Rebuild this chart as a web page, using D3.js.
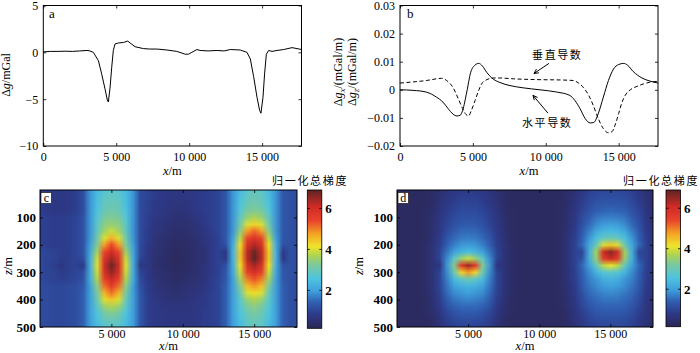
<!DOCTYPE html>
<html>
<head>
<meta charset="utf-8">
<script src="https://cdn.jsdelivr.net/npm/d3@7"></script>
<style>
body { margin: 0; background: #fff; }
svg { display: block; }
svg text { font-family: "Liberation Serif", "Times New Roman", "DejaVu Serif", serif; fill: #000; }
svg text.cjk { font-family: "Noto Sans CJK SC", sans-serif; }
</style>
</head>
<body>
<svg id="fig" width="700" height="353"></svg>
<script>
// ---- panel a: gravity anomaly profile (x in m, mGal)
const gravX = [0, 500, 1000, 1500, 2000, 2500, 3000, 3200, 3430, 3780, 4000, 4230, 4390, 4460, 4580, 4690, 4800, 4920, 5150, 5490, 5790, 5950, 6290, 6860, 7300, 7780, 8470, 9150, 9730, 9950, 10180, 10530, 10750, 11300, 11900, 12400, 12820, 13500, 13960, 14190, 14420, 14650, 14830, 14920, 15060, 15170, 15290, 15450, 15680, 16020, 16480, 17050, 17390, 17700];
const gravY = [0.05, 0.1, 0.1, 0.12, 0.1, 0.15, 0.2, 0.15, 0, -0.9, -2.3, -3.9, -5.1, -5.3, -3.7, -1.6, 0.2, 0.9, 1.0, 1.05, 1.2, 1.0, 0.6, 0.4, 0.35, 0.35, 0.25, 0.1, -0.2, -0.2, 0, 0.3, 0.2, 0.15, 0.2, 0.15, 0.3, 0.25, 0, -0.7, -2.6, -4.8, -6.2, -6.5, -4.8, -2.3, -0.2, 0.2, 0.1, 0.2, 0.3, 0.5, 0.4, 0.3];

// ---- panel b: horizontal (solid) and vertical (dashed) derivatives
const horX = [0, 900, 1800, 2500, 2950, 3300, 3650, 3900, 4120, 4300, 4580, 4850, 5150, 5400, 5650, 5950, 6300, 6850, 7550, 8450, 9600, 10750, 11650, 12000, 12350, 12700, 13050, 13300, 13600, 13950, 14300, 14650, 15000, 15350, 15600, 16000, 16600, 17150, 17700];
const horY = [0, -0.0002, -0.0008, -0.0026, -0.0044, -0.0067, -0.0087, -0.0093, -0.0091, -0.0073, -0.0008, 0.0062, 0.0088, 0.0094, 0.0085, 0.0062, 0.0042, 0.0026, 0.0015, 0.0007, 0, -0.0008, -0.002, -0.0038, -0.0067, -0.0102, -0.0118, -0.0116, -0.0085, -0.0026, 0.0033, 0.0074, 0.009, 0.0094, 0.0088, 0.0065, 0.0042, 0.0031, 0.0024];
const verX = [0, 900, 1800, 2500, 2850, 3200, 3650, 4000, 4300, 4530, 4700, 4900, 5150, 5400, 5600, 5950, 6400, 6850, 7800, 9600, 11000, 11900, 12250, 12600, 12950, 13300, 13600, 13950, 14300, 14550, 14750, 15000, 15200, 15450, 15800, 16250, 16700, 17150, 17700];
const verY = [0.0024, 0.0028, 0.0033, 0.0039, 0.0041, 0.0033, 0.0007, -0.0032, -0.0067, -0.0088, -0.0093, -0.0073, -0.0038, -0.0002, 0.0021, 0.0036, 0.0042, 0.0042, 0.0039, 0.0036, 0.0035, 0.0033, 0.0024, 0.0007, -0.002, -0.0061, -0.0102, -0.0138, -0.0153, -0.0149, -0.0126, -0.0085, -0.0049, -0.002, 0, 0.0012, 0.0021, 0.0027, 0.003];

// ---- panels c, d: normalized full gradient grids (columns = gridX, rows = gridZ)
const gridX = [0, 500, 1000, 1500, 2000, 2500, 3000, 3500, 4000, 4500, 5000, 5500, 6000, 6500, 7000, 7500, 8000, 8500, 9000, 9500, 10000, 10500, 11000, 11500, 12000, 12500, 13000, 13500, 14000, 14500, 15000, 15500, 16000, 16500, 17000, 17500, 18000];
const gridZ = [0, 25, 50, 75, 100, 125, 150, 175, 200, 225, 250, 275, 300, 325, 350, 375, 400, 425, 450, 475, 500];

const gradC = [
  [0.85,0.8,0.75,0.75,0.8,0.9, 1.1,1.9, 2.4,2.7,2.8,2.7,2.4, 1.9,1.1, 1.0,0.85,0.8,0.7,0.7,0.7,0.75,0.8,0.85,0.9,1.0, 1.3,1.9, 2.4,2.8,2.9,2.8,2.4, 1.9,1.3,1.2,1.1],
  [0.85,0.8,0.75,0.75,0.8,0.9, 1.1,1.9, 2.5,2.8,2.9,2.8,2.5, 1.9,1.1, 1.0,0.85,0.8,0.7,0.7,0.7,0.75,0.8,0.85,0.9,1.0, 1.3,1.9, 2.5,2.9,3.0,2.9,2.5, 1.9,1.3,1.2,1.1],
  [0.85,0.8,0.75,0.75,0.8,0.9, 1.1,1.9, 2.5,2.9,3.0,2.9,2.5, 1.9,1.1, 0.95,0.8,0.75,0.7,0.65,0.65,0.7,0.8,0.85,0.9,1.0, 1.3,1.9, 2.6,3.0,3.1,3.0,2.6, 1.9,1.3,1.2,1.1],
  [0.85,0.8,0.75,0.75,0.8,0.9, 1.1,1.9, 2.6,3.0,3.1,3.0,2.6, 1.9,1.1, 0.95,0.8,0.75,0.65,0.6,0.6,0.7,0.75,0.85,0.9,1.0, 1.3,1.9, 2.7,3.2,3.3,3.2,2.7, 1.9,1.3,1.2,1.1],
  [0.95,0.9,0.85,0.85,0.9,1.0, 1.2,1.9, 2.7,3.2,3.3,3.2,2.7, 1.9,1.1, 0.9,0.75,0.7,0.6,0.55,0.55,0.6,0.7,0.8,0.9,1.0, 1.3,1.9, 2.9,3.5,3.7,3.5,2.9, 1.9,1.3,1.2,1.1],
  [0.95,0.9,0.85,0.85,0.9,1.0, 1.2,1.9, 2.8,3.4,3.5,3.4,2.8, 1.9,1.1, 0.9,0.7,0.65,0.55,0.5,0.5,0.55,0.65,0.75,0.9,1.0, 1.3,1.9, 3.1,4.0,4.3,4.0,3.1, 1.9,1.3,1.2,1.1],
  [0.95,0.9,0.85,0.85,0.9,1.0, 1.2,1.9, 2.9,3.6,3.9,3.6,2.9, 1.9,1.1, 0.85,0.65,0.6,0.5,0.45,0.45,0.5,0.6,0.7,0.85,1.0, 1.3,1.9, 3.4,4.8,5.2,4.8,3.4, 1.9,1.3,1.2,1.1],
  [0.95,0.9,0.85,0.85,0.9,1.0, 1.2,1.9, 3.1,4.0,4.6,4.0,3.1, 1.9,1.1, 0.85,0.6,0.55,0.45,0.4,0.4,0.45,0.55,0.65,0.8,0.95, 1.3,2.0, 3.8,5.4,5.8,5.4,3.8, 2.0,1.3,1.2,1.1],
  [0.95,0.9,0.85,0.85,0.9,1.0, 1.2,2.0, 3.3,4.8,5.4,4.8,3.3, 2.0,1.1, 0.8,0.6,0.5,0.4,0.35,0.35,0.4,0.5,0.6,0.8,0.95, 1.2,2.2, 4.2,5.9,6.3,5.9,4.2, 2.2,1.2,1.2,1.1],
  [1.05,1.0,0.95,0.9,0.9,1.0, 1.2,2.1, 3.6,5.4,6.0,5.4,3.6, 2.1,1.1, 0.8,0.55,0.5,0.4,0.3,0.35,0.4,0.5,0.55,0.8,0.95, 0.8,2.3, 4.4,6.2,6.8,6.2,4.4, 2.3,0.8,1.2,1.1],
  [1.05,1.0,0.95,0.85,0.9,1.0, 1.1,2.2, 3.9,5.8,6.4,5.8,3.9, 2.2,1.0, 0.75,0.55,0.45,0.35,0.3,0.3,0.4,0.5,0.55,0.8,0.95, 0.8,2.3, 4.4,6.2,6.9,6.2,4.4, 2.3,0.8,1.2,1.1],
  [1.05,1.0,0.9,0.7,0.9,0.95, 0.8,2.2, 4.0,6.0,6.8,6.0,4.0, 2.2,0.75, 0.75,0.5,0.45,0.35,0.3,0.35,0.4,0.5,0.6,0.8,0.95, 1.2,2.2, 4.2,5.9,6.4,5.9,4.2, 2.2,1.2,1.2,1.1],
  [1.05,1.0,0.95,0.85,0.9,1.0, 1.1,2.2, 3.9,5.9,6.5,5.9,3.9, 2.2,1.0, 0.8,0.55,0.5,0.4,0.35,0.35,0.45,0.5,0.6,0.8,0.95, 1.3,2.1, 3.9,5.5,5.9,5.5,3.9, 2.1,1.3,1.2,1.1],
  [1.05,1.0,0.95,0.9,0.95,1.05, 1.2,2.2, 3.7,5.5,6.1,5.5,3.7, 2.2,1.1, 0.8,0.6,0.5,0.45,0.4,0.4,0.5,0.55,0.65,0.85,1.0, 1.3,2.0, 3.6,5.0,5.3,5.0,3.6, 2.0,1.3,1.2,1.1],
  [1.1,1.1,1.05,1.05,1.1,1.15, 1.3,2.0, 3.4,5.1,5.6,5.1,3.4, 2.0,1.2, 0.85,0.65,0.55,0.5,0.45,0.5,0.55,0.6,0.7,0.85,1.0, 1.4,2.0, 3.3,4.5,4.8,4.5,3.3, 2.0,1.4,1.2,1.1],
  [1.1,1.1,1.05,1.05,1.1,1.15, 1.4,2.0, 3.2,4.6,5.1,4.6,3.2, 2.0,1.3, 0.85,0.7,0.6,0.55,0.5,0.55,0.6,0.65,0.75,0.9,1.0, 1.4,2.0, 3.0,4.0,4.2,4.0,3.0, 2.0,1.4,1.2,1.1],
  [1.1,1.1,1.05,1.05,1.1,1.15, 1.4,2.0, 3.0,4.0,4.4,4.0,3.0, 2.0,1.3, 0.9,0.75,0.65,0.6,0.6,0.6,0.65,0.7,0.8,0.9,1.0, 1.4,2.0, 2.8,3.5,3.7,3.5,2.8, 2.0,1.4,1.2,1.1],
  [1.1,1.1,1.05,1.05,1.1,1.15, 1.4,2.0, 2.8,3.5,3.7,3.5,2.8, 2.0,1.3, 0.9,0.8,0.7,0.7,0.65,0.65,0.7,0.75,0.8,0.9,1.0, 1.4,2.0, 2.7,3.2,3.4,3.2,2.7, 2.0,1.4,1.2,1.1],
  [1.1,1.1,1.05,1.05,1.1,1.15, 1.4,2.0, 2.6,3.1,3.3,3.1,2.6, 2.0,1.3, 0.9,0.8,0.75,0.7,0.7,0.7,0.7,0.75,0.85,0.9,1.0, 1.4,2.0, 2.6,3.0,3.2,3.0,2.6, 2.0,1.4,1.2,1.1],
  [1.1,1.1,1.05,1.05,1.1,1.15, 1.4,2.0, 2.5,2.9,3.0,2.9,2.5, 2.0,1.3, 0.9,0.8,0.75,0.7,0.7,0.7,0.7,0.75,0.85,0.9,1.0, 1.4,2.0, 2.5,2.9,3.0,2.9,2.5, 2.0,1.4,1.2,1.1],
  [1.1,1.1,1.05,1.05,1.1,1.15, 1.4,2.0, 2.4,2.7,2.8,2.7,2.4, 2.0,1.3, 0.9,0.8,0.75,0.7,0.7,0.7,0.7,0.75,0.85,0.9,1.0, 1.4,2.0, 2.4,2.8,2.9,2.8,2.4, 2.0,1.4,1.2,1.1]
];

const gradD = [
  [0.3,0.3,0.3,0.3, 0.3,0.35,0.5,0.65,0.75,0.8,0.8, 0.8,0.75,0.65,0.5,0.35,0.3, 0.3,0.3,0.3,0.3,0.3,0.3, 0.3,0.4,0.55,0.75,0.9,1.0,1.05,1.05, 1.05,1.0,0.9,0.75,0.55,0.4],
  [0.3,0.3,0.3,0.3, 0.3,0.4,0.55,0.7,0.8,0.9,0.9, 0.9,0.8,0.7,0.55,0.4,0.3, 0.3,0.3,0.3,0.3,0.3,0.3, 0.3,0.45,0.6,0.8,1.0,1.1,1.15,1.15, 1.15,1.1,1.0,0.8,0.6,0.45],
  [0.3,0.3,0.3,0.3, 0.3,0.4,0.6,0.75,0.9,1.0,1.0, 1.0,0.9,0.75,0.6,0.4,0.3, 0.3,0.3,0.3,0.3,0.3,0.3, 0.35,0.45,0.65,0.9,1.1,1.25,1.3,1.3, 1.3,1.25,1.1,0.9,0.65,0.45],
  [0.3,0.3,0.3,0.3, 0.35,0.45,0.65,0.85,1.0,1.1,1.1, 1.1,1.0,0.85,0.65,0.45,0.35, 0.3,0.3,0.3,0.3,0.3,0.3, 0.35,0.5,0.7,1.0,1.2,1.4,1.45,1.5, 1.45,1.4,1.2,1.0,0.7,0.5],
  [0.3,0.3,0.3,0.3, 0.35,0.5,0.7,0.9,1.1,1.2,1.2, 1.2,1.1,0.9,0.7,0.5,0.35, 0.3,0.3,0.3,0.3,0.3,0.3, 0.35,0.5,0.75,1.1,1.35,1.6,1.7,1.7, 1.7,1.6,1.35,1.1,0.75,0.5],
  [0.3,0.3,0.3,0.3, 0.35,0.5,0.75,1.0,1.2,1.3,1.35, 1.3,1.2,1.0,0.75,0.5,0.35, 0.3,0.3,0.3,0.3,0.3,0.3, 0.35,0.55,0.8,1.2,1.5,1.8,1.95,2.0, 1.95,1.8,1.5,1.2,0.8,0.55],
  [0.3,0.3,0.3,0.3, 0.35,0.55,0.8,1.1,1.35,1.5,1.5, 1.5,1.35,1.1,0.8,0.55,0.35, 0.3,0.3,0.3,0.3,0.3,0.3, 0.4,0.55,0.85,1.3,1.7,2.1,2.35,2.4, 2.35,2.1,1.7,1.3,0.85,0.55],
  [0.3,0.3,0.3,0.3, 0.35,0.55,0.85,1.25,1.5,1.65,1.7, 1.65,1.5,1.25,0.85,0.55,0.35, 0.3,0.3,0.3,0.3,0.3,0.3, 0.4,0.6,0.9,1.4,1.9,2.5,2.9,3.0, 2.9,2.5,1.9,1.4,0.9,0.6],
  [0.3,0.3,0.3,0.3, 0.4,0.6,0.9,1.4,1.7,1.9,1.95, 1.9,1.7,1.4,0.9,0.6,0.4, 0.3,0.3,0.3,0.3,0.3,0.3, 0.4,0.6,0.95,1.5,2.1,3.0,4.0,4.4, 4.0,3.0,2.1,1.5,0.95,0.6],
  [0.3,0.3,0.3,0.3, 0.4,0.6,1.0,1.6,2.0,2.3,2.5, 2.3,2.0,1.6,1.0,0.6,0.4, 0.3,0.3,0.3,0.3,0.3,0.3, 0.4,0.6,0.95,1.0,2.2,3.6,6.0,6.6, 6.0,3.6,2.2,1.0,0.95,0.6],
  [0.3,0.3,0.3,0.3, 0.4,0.6,1.0,1.8,2.8,3.5,3.9, 3.5,2.8,1.8,1.0,0.6,0.4, 0.3,0.3,0.3,0.3,0.3,0.3, 0.4,0.6,0.95,1.2,2.2,3.5,5.6,6.1, 5.6,3.5,2.2,1.2,0.95,0.6],
  [0.3,0.3,0.3,0.3, 0.4,0.6,0.7,1.9,3.3,5.6,6.4, 5.6,3.3,1.9,0.7,0.6,0.4, 0.3,0.3,0.3,0.3,0.3,0.3, 0.4,0.6,0.95,1.5,2.0,2.9,3.8,4.1, 3.8,2.9,2.0,1.5,0.95,0.6],
  [0.3,0.3,0.3,0.3, 0.4,0.6,1.0,1.8,3.0,4.3,4.8, 4.3,3.0,1.8,1.0,0.6,0.4, 0.3,0.3,0.3,0.3,0.3,0.3, 0.4,0.6,0.9,1.4,1.8,2.3,2.7,2.8, 2.7,2.3,1.8,1.4,0.9,0.6],
  [0.3,0.3,0.3,0.3, 0.4,0.6,1.0,1.7,2.4,2.8,3.0, 2.8,2.4,1.7,1.0,0.6,0.4, 0.3,0.3,0.3,0.3,0.3,0.3, 0.4,0.6,0.9,1.35,1.7,1.9,2.2,2.3, 2.2,1.9,1.7,1.35,0.9,0.6],
  [0.3,0.3,0.3,0.3, 0.4,0.6,1.0,1.6,2.0,2.2,2.3, 2.2,2.0,1.6,1.0,0.6,0.4, 0.3,0.3,0.3,0.3,0.3,0.3, 0.4,0.55,0.85,1.3,1.6,1.8,1.95,2.0, 1.95,1.8,1.6,1.3,0.85,0.55],
  [0.3,0.3,0.3,0.3, 0.4,0.6,0.95,1.5,1.8,1.9,2.0, 1.9,1.8,1.5,0.95,0.6,0.4, 0.3,0.3,0.3,0.3,0.3,0.3, 0.35,0.55,0.8,1.2,1.5,1.65,1.75,1.8, 1.75,1.65,1.5,1.2,0.8,0.55],
  [0.3,0.3,0.3,0.3, 0.35,0.55,0.9,1.35,1.6,1.7,1.75, 1.7,1.6,1.35,0.9,0.55,0.35, 0.3,0.3,0.3,0.3,0.3,0.3, 0.35,0.5,0.75,1.1,1.4,1.5,1.6,1.6, 1.6,1.5,1.4,1.1,0.75,0.5],
  [0.3,0.3,0.3,0.3, 0.35,0.5,0.8,1.2,1.4,1.5,1.5, 1.5,1.4,1.2,0.8,0.5,0.35, 0.3,0.3,0.3,0.3,0.3,0.3, 0.35,0.5,0.7,1.0,1.25,1.4,1.45,1.45, 1.45,1.4,1.25,1.0,0.7,0.5],
  [0.3,0.3,0.3,0.3, 0.35,0.45,0.7,1.0,1.2,1.3,1.3, 1.3,1.2,1.0,0.7,0.45,0.35, 0.3,0.3,0.3,0.3,0.3,0.3, 0.3,0.45,0.65,0.9,1.1,1.25,1.3,1.3, 1.3,1.25,1.1,0.9,0.65,0.45],
  [0.3,0.3,0.3,0.3, 0.3,0.4,0.6,0.9,1.05,1.1,1.15, 1.1,1.05,0.9,0.6,0.4,0.3, 0.3,0.3,0.3,0.3,0.3,0.3, 0.3,0.4,0.6,0.8,1.0,1.1,1.15,1.15, 1.15,1.1,1.0,0.8,0.6,0.4],
  [0.3,0.3,0.3,0.3, 0.3,0.4,0.55,0.8,0.9,1.0,1.0, 1.0,0.9,0.8,0.55,0.4,0.3, 0.3,0.3,0.3,0.3,0.3,0.3, 0.3,0.4,0.55,0.75,0.9,1.0,1.05,1.05, 1.05,1.0,0.9,0.75,0.55,0.4]
];

// tick values
const ticksXTop = [0, 5000, 10000, 15000];
const ticksXBot = [5000, 10000, 15000];
const ticksYA = [5, 0, -5, -10];
const ticksYB = [0.03, 0.02, 0.01, 0, -0.01, -0.02];
const ticksZ = [100, 200, 300, 400, 500];
const ticksBar = [2, 4, 6];

// jet-like colormap as it appears in the figure
const cmapPos = [0, 0.1, 0.19, 0.27, 0.36, 0.46, 0.53, 0.59, 0.68, 0.78, 0.88, 1];
const cmapCol = ["#2c2755", "#2d3a8a", "#3160b3", "#3f9fdb", "#4ec4e0", "#7dc99a", "#b0d54e", "#eee42c", "#f4a524", "#e8422c", "#cf2a25", "#5c2525"];
const valRange = [0.15, 6.9];

const cmap = d3.scaleLinear().domain(cmapPos).range(cmapCol).interpolate(d3.interpolateRgb).clamp(true);
const toT = d3.scaleLinear().domain(valRange).range([0, 1]).clamp(true);
const color = v => cmap(toT(v));

const svg = d3.select("#fig");
const minus = s => s.replace("-", "\u2212");
const fmtX = d => d === 0 ? "0" : d3.format(",")(d).replace(",", " ");

// axes with inward ticks, MATLAB-like box
function axes(g, x, y, o) {
  const [x0, x1] = x.range(), [y0, y1] = y.range();
  const ax = g.append("g").attr("transform", `translate(0,${y0})`)
    .call(d3.axisBottom(x).tickValues(o.xt).tickSize(-3).tickPadding(o.xpad).tickFormat(fmtX));
  const ay = g.append("g").attr("transform", `translate(${x0},0)`)
    .call(d3.axisLeft(y).tickValues(o.yt).tickSize(-3).tickPadding(o.ypad).tickFormat(o.yf));
  g.append("g").attr("transform", `translate(0,${y1})`)
    .call(d3.axisTop(x).tickValues(o.xt).tickSize(-3).tickFormat(""));
  g.append("g").attr("transform", `translate(${x1},0)`)
    .call(d3.axisRight(y).tickValues(o.yt).tickSize(-3).tickFormat(""));
  g.selectAll(".domain").remove();
  g.selectAll(".tick line").attr("stroke", "#000").attr("stroke-width", 0.8);
  ax.selectAll("text").attr("font-size", o.xfs);
  ay.selectAll("text").attr("font-size", o.yfs).attr("font-weight", o.yfw || "normal");
  g.append("rect").attr("x", x0).attr("y", y1).attr("width", x1 - x0).attr("height", y0 - y1)
    .attr("fill", "none").attr("stroke", "#000").attr("stroke-width", 1);
  g.append("text").attr("x", (x0 + x1) / 2).attr("y", o.xly).attr("text-anchor", "middle")
    .attr("font-size", 12.5)
    .call(t => { t.append("tspan").attr("font-style", "italic").text("x"); t.append("tspan").text("/m"); });
}

// ---------- panel a
const xA = d3.scaleLinear().domain([0, 17700]).range([43.3, 301.5]);
const yA = d3.scaleLinear().domain([-10, 5]).range([146, 5.5]);
const gA = svg.append("g");
gA.append("path")
  .attr("d", d3.line().x((d, i) => xA(gravX[i])).y(d => yA(d))(gravY))
  .attr("fill", "none").attr("stroke", "#000").attr("stroke-width", 1);
axes(gA, xA, yA, { xt: ticksXTop, yt: ticksYA, yf: d => minus(String(d)), xpad: 6, ypad: 5, xfs: 12, yfs: 12, xly: 175 });
gA.append("text").attr("x", 49).attr("y", 18).attr("font-size", 13).text("a");
gA.append("text").attr("transform", "translate(10,75) rotate(-90)").attr("text-anchor", "middle").attr("font-size", 12)
  .call(t => { t.append("tspan").text("\u0394"); t.append("tspan").attr("font-style", "italic").text("g"); t.append("tspan").text("/mGal"); });

// ---------- panel b
const xB = d3.scaleLinear().domain([0, 17700]).range([400, 658]);
const yB = d3.scaleLinear().domain([-0.02, 0.03]).range([146, 5.5]);
const gB = svg.append("g");
const lineB = (xs) => d3.line().curve(d3.curveMonotoneX).x((d, i) => xB(xs[i])).y(d => yB(d));
gB.append("path").attr("d", lineB(verX)(verY))
  .attr("fill", "none").attr("stroke", "#000").attr("stroke-width", 1).attr("stroke-dasharray", "4,2.5");
gB.append("path").attr("d", lineB(horX)(horY))
  .attr("fill", "none").attr("stroke", "#000").attr("stroke-width", 1);
axes(gB, xB, yB, { xt: ticksXTop, yt: ticksYB, yf: d => minus(d === 0 ? "0" : d3.format(".2f")(d)), xpad: 6, ypad: 5, xfs: 12, yfs: 12, xly: 175 });
gB.append("text").attr("x", 407).attr("y", 18).attr("font-size", 13).text("b");

function yLabelB(cx, sub) {
  gB.append("text").attr("transform", `translate(${cx},72) rotate(-90)`).attr("text-anchor", "middle").attr("font-size", 12)
    .call(t => {
      t.append("tspan").text("\u0394");
      t.append("tspan").attr("font-style", "italic").text("g");
      t.append("tspan").attr("font-style", "italic").attr("font-size", 9).attr("dy", 3).text(sub);
      t.append("tspan").attr("dy", -3).text("/(mGal/m)");
    });
}
yLabelB(342, "x");
yLabelB(356, "z");

// annotations: [text, text x, text y, tail x, tail y, head x, head y] in data units
const noteVert = ["垂直导数", 9060, 0.0111, 10220, 0.0094, 9190, 0.0058];
const noteHor = ["水平导数", 8370, -0.0133, 10150, -0.0083, 9125, -0.0020];
function note(n) {
  const [label, tx, ty, ax, ay, hx, hy] = n;
  gB.append("text").attr("class", "cjk").attr("x", xB(tx)).attr("y", yB(ty))
    .attr("font-size", 11).attr("letter-spacing", 1.6).text(label);
  const x1 = xB(ax), y1 = yB(ay), x2 = xB(hx), y2 = yB(hy);
  gB.append("line").attr("x1", x1).attr("y1", y1).attr("x2", x2).attr("y2", y2).attr("stroke", "#000").attr("stroke-width", 1);
  const a = Math.atan2(y1 - y2, x1 - x2), L = 5, w = 0.45;
  gB.append("path")
    .attr("d", `M${x2 + L * Math.cos(a + w)},${y2 + L * Math.sin(a + w)}L${x2},${y2}L${x2 + L * Math.cos(a - w)},${y2 + L * Math.sin(a - w)}`)
    .attr("fill", "none").attr("stroke", "#000").attr("stroke-width", 1);
}
note(noteVert);
note(noteHor);

// ---------- panels c, d
function heatPanel(grid, xr, cbx, cbBottom, o) {
  const x = d3.scaleLinear().domain([0, 18000]).range(xr);
  const z = d3.scaleLinear().domain([0, 500]).range([190, 327]);
  const g = svg.append("g");
  const cv = document.createElement("canvas");
  cv.width = gridX.length; cv.height = gridZ.length;
  const ctx = cv.getContext("2d");
  grid.forEach((row, j) => row.forEach((v, i) => { ctx.fillStyle = color(v); ctx.fillRect(i, j, 1, 1); }));
  const hx = (gridX[1] - gridX[0]) / 2, hz = (gridZ[1] - gridZ[0]) / 2;
  g.append("clipPath").attr("id", "clip" + o.id).append("rect")
    .attr("x", xr[0]).attr("y", 190).attr("width", xr[1] - xr[0]).attr("height", 137);
  g.append("image").attr("href", cv.toDataURL())
    .attr("x", x(gridX[0] - hx)).attr("width", x(gridX[gridX.length - 1] + hx) - x(gridX[0] - hx))
    .attr("y", z(gridZ[0] - hz)).attr("height", z(gridZ[gridZ.length - 1] + hz) - z(gridZ[0] - hz))
    .attr("preserveAspectRatio", "none").attr("clip-path", `url(#clip${o.id})`);
  axes(g, x, z.copy().domain([500, 0]).range([327, 190]), { xt: ticksXBot, yt: ticksZ, yf: d => String(d), xpad: 2, ypad: 4, xfs: 12, yfs: 13, yfw: "bold", xly: 350 });
  // panel letter in a white box
  g.append("rect").attr("x", xr[0] + 1).attr("y", 192.5).attr("width", 10.5).attr("height", 11)
    .attr("fill", "#fff").attr("stroke", "#000").attr("stroke-width", 0.6);
  g.append("text").attr("x", xr[0] + 6.3).attr("y", 201.5).attr("text-anchor", "middle").attr("font-size", 12).text(o.id);
  g.append("text").attr("transform", `translate(${o.zlx},266) rotate(-90)`).attr("text-anchor", "middle").attr("font-size", 12.5)
    .call(t => { t.append("tspan").attr("font-style", "italic").text("z"); t.append("tspan").text("/m"); });

  // colorbar
  const cb = d3.scaleLinear().domain(valRange).range([cbBottom, 190]);
  const gradId = "grad" + o.id;
  const lg = svg.append("defs").append("linearGradient").attr("id", gradId)
    .attr("x1", 0).attr("y1", 1).attr("x2", 0).attr("y2", 0);
  cmapPos.forEach((p, i) => lg.append("stop").attr("offset", p).attr("stop-color", cmapCol[i]));
  g.append("rect").attr("x", cbx).attr("y", 190).attr("width", 14.5).attr("height", cbBottom - 190)
    .attr("fill", `url(#${gradId})`).attr("stroke", "#000").attr("stroke-width", 0.8);
  ticksBar.forEach(v => {
    g.append("line").attr("x1", cbx + 14.5).attr("x2", cbx + 12).attr("y1", cb(v)).attr("y2", cb(v)).attr("stroke", "#000").attr("stroke-width", 0.8);
    g.append("line").attr("x1", cbx).attr("x2", cbx + 2.5).attr("y1", cb(v)).attr("y2", cb(v)).attr("stroke", "#000").attr("stroke-width", 0.8);
    g.append("text").attr("x", cbx + 18).attr("y", cb(v) + 4.5).attr("font-size", 13).attr("font-weight", "bold").text(v);
  });
  g.append("text").attr("class", "cjk").attr("x", o.tx).attr("y", 184.5)
    .attr("font-size", 11).attr("letter-spacing", 1.7).text("归一化总梯度");
}
heatPanel(gradC, [40, 297], 307.3, 328.3, { id: "c", zlx: 12, tx: 272 });
heatPanel(gradD, [397, 653], 666, 326.7, { id: "d", zlx: 363, tx: 623 });
</script>
</body>
</html>
